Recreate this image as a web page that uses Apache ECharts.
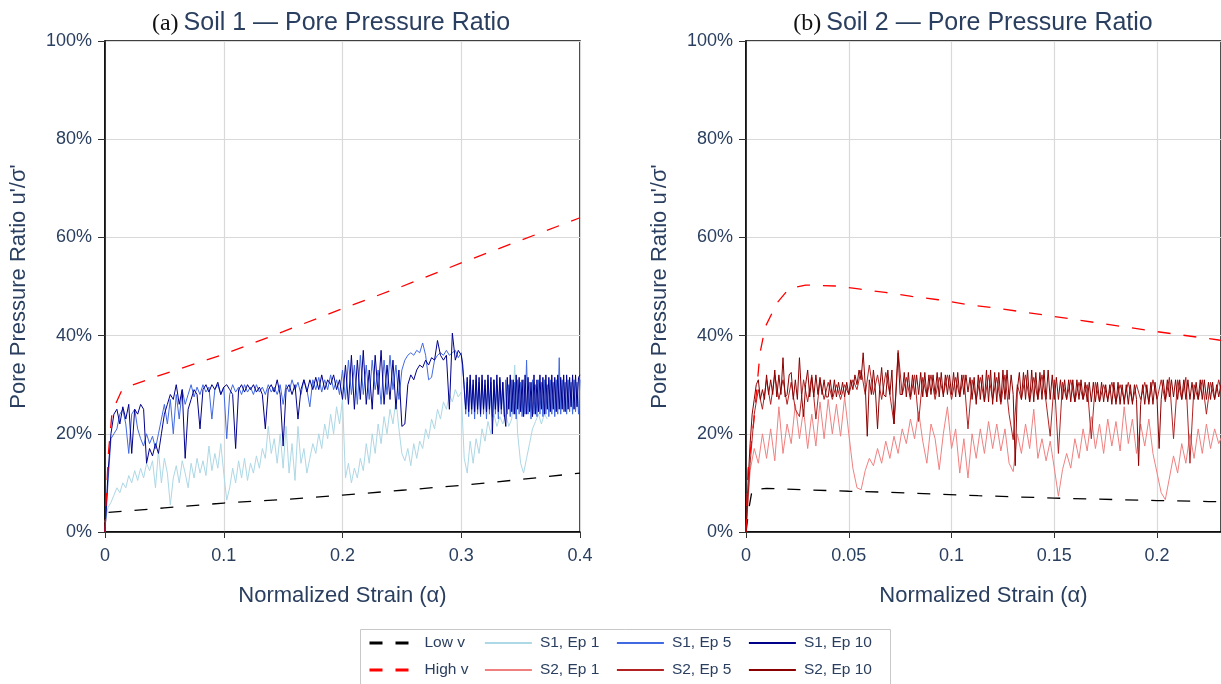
<!DOCTYPE html>
<html>
<head>
<meta charset="utf-8">
<script src="https://cdn.jsdelivr.net/npm/echarts@6/dist/echarts.min.js"></script>
<style>
  html, body { margin: 0; padding: 0; background: #fff; }
  #chart { width: 1221px; height: 684px; }
</style>
</head>
<body>
<div id="chart"></div>
<script>
// ---- data (values in %) ----
const s1Step = 0.0025;      // strain step of the soil 1 records, 0 .. 0.3
const s1TailStart = 0.30125; // denser records after 0.3
const s1TailStep = 0.00125;
const s2Step = 0.002;       // soil 2, episodes 1 and 5
const s2FineStep = 0.001;   // soil 2, episode 10

const s1Ep10 = [
  0, 12, 20, 24, 25, 22, 25.5, 23, 26, 16,
  25, 24, 26, 25, 14, 17, 15.5, 18, 16, 20,
  24, 26, 28, 27, 30, 26, 29, 15, 25, 27,
  29, 28, 21, 29, 30, 28.5, 30, 29, 30.5, 28,
  29.5, 30, 29, 28, 17, 29, 30, 28.5, 30, 29,
  30, 28.5, 29.5, 28, 21, 29, 30, 28.5, 31, 28,
  17.5, 29, 30, 28, 30, 23, 29, 31, 28.5, 31,
  29, 31.5, 29, 32, 29, 31, 30, 32, 29, 31,
  27, 34, 26, 36, 25, 35, 27, 37, 26, 33,
  25, 36, 28, 37, 26, 34, 27, 35, 25, 33,
  21.5, 22, 30, 32, 31, 33, 34, 33.5, 35, 34,
  35.5, 35, 39, 36, 35, 36, 25, 40.5, 35, 37,
  36
];
const s1Ep10Tail = [
  34, 29, 25, 31.5, 24.5, 32, 25, 31, 24.5, 32,
  25, 31.5, 24, 32, 25, 31, 24.5, 32, 25, 31.5,
  20, 31, 25, 32, 24.5, 31.5, 25, 30.5, 24, 21.5,
  31.5, 25, 32, 24.5, 31, 24, 32, 25, 31.5, 24.5,
  31, 23.5, 32, 24, 31.5, 24.5, 30.5, 23.5, 32, 24,
  31, 24.5, 32, 25, 31.5, 24, 32, 25, 31.5, 24.5,
  32, 25, 31.5, 24.5, 32, 25, 31.5, 25, 32, 24.5,
  32, 25, 31.5, 25.5, 32, 25, 32, 25.5, 31.5, 32
];
const s1Ep5 = [
  0, 10, 19, 20, 21, 24, 25, 22, 16, 24,
  25, 21, 19, 17.5, 20, 18, 19.5, 17, 20, 23,
  26, 22, 27, 20, 28, 23, 29, 26, 28, 30,
  27.5, 29.5, 28, 30, 28.5, 29.5, 23, 29, 30, 28,
  29.5, 19, 28, 30, 28.5, 29.5, 28, 30, 28.5, 29.5,
  28, 30, 28.5, 29.5, 28, 30, 28.5, 29.5, 28, 30,
  26, 30, 28.5, 31, 29, 30.5, 28, 31, 29, 25.5,
  31, 29, 31.5, 28.5, 31, 29, 32, 29, 31, 28,
  33, 27, 35, 28, 34, 26, 36, 28, 34, 27,
  35, 29, 33, 26, 35, 28, 36, 29, 34, 27,
  33, 35, 36, 36.5, 36, 37, 36.5, 38.5, 36, 31,
  31.5, 35, 36, 36.5, 36, 37, 36, 36.5, 37, 35.5,
  36.5
];
const s1Ep5Tail = [
  33, 30, 24, 30.5, 23.5, 31, 24, 30, 23, 31,
  24, 30.5, 23.5, 31, 24, 30, 23, 31, 24, 30.5,
  23.5, 31, 24, 30, 23, 31, 24, 30.5, 23.5, 31,
  24, 30, 23.5, 31, 24, 30.5, 23, 31, 24, 30.5,
  23.5, 31, 24, 35, 24, 30.5, 23, 31, 24, 30,
  23.5, 31, 24, 30.5, 23.5, 31, 24, 30, 23.5, 31,
  24, 30.5, 23.5, 31, 24, 35.5, 24, 31, 24.5, 30.5,
  24, 31, 24.5, 30.5, 24, 31, 24.5, 30.5, 24, 31
];
const s1Ep1 = [
  2, 5, 6, 7.5, 9, 8, 10, 9, 11.5, 10,
  12.5, 10.5, 13, 11, 14, 12.5, 14.5, 9, 16.5, 10,
  15, 12, 5.5, 11, 13.5, 10, 14.5, 12, 9, 14,
  11, 15, 12, 14.5, 11.5, 17.5, 12.5, 16, 13, 18,
  12, 6.5, 9, 13, 10, 14.5, 11, 15, 10.5, 14,
  12, 15.5, 13, 17, 15, 21.5, 16, 19, 14, 20,
  13, 21.5, 12, 18, 10.5, 21.5, 14, 17, 12, 15,
  18, 16, 20, 17, 22, 19, 24, 20, 25.5, 22,
  27, 11, 14, 10, 13, 11, 15, 12.5, 18, 14,
  20, 16, 22, 18, 23.5, 20, 25, 22, 27, 21,
  16, 14.5, 17, 13.5, 18, 15, 18.5, 17, 21, 19,
  23, 21, 25, 23, 26.5, 25, 28, 26.5, 29, 27.5,
  28.5, 15, 12, 18.5, 14, 19, 16, 21, 18.5, 22.5,
  20, 24, 21.5, 23.5, 22, 24, 21.5, 23, 34, 20,
  14, 12, 15, 18, 21, 22.5, 24, 22, 24, 23
];

const s2Ep10 = [
  0, 10, 18, 24, 27, 30, 31, 27, 29, 27, 32, 28, 31, 28, 33, 27.5, 32, 28, 35.5, 27.5,
  28, 32, 32.5, 27, 31, 27, 35.5, 28, 23.5, 30, 33, 27.5, 31.5, 27.5, 32, 28, 31.5, 28, 31, 27.5,
  27.5, 31, 27.5, 31, 27.5, 30.5, 28, 30.5, 27.5, 30.5, 28, 31, 29, 32, 30, 33, 31, 36.5, 30, 19.5,
  31, 28, 33, 28.5, 21, 29, 33.5, 28, 27.5, 33, 28, 33, 22, 28.5, 36.5, 28, 28, 32.5, 27.5, 32.5,
  27.5, 32, 28, 32, 28, 32.5, 27.5, 32.5, 27.5, 32, 28, 32, 28, 32.5, 27.5, 32.5, 27.5, 32, 28, 32,
  28, 32.5, 27.5, 32.5, 27.5, 32, 28, 32, 28.5, 31.5, 27, 31.5, 26, 32, 27, 32, 26.5, 33, 26.5, 33,
  26, 32.5, 26.5, 32.5, 26.5, 33, 27, 33, 27, 32, 28, 13.5, 29, 32.5, 27, 32.5, 27, 33, 26.5, 33,
  26.5, 32.5, 27, 32.5, 27, 33, 27, 33, 27, 32, 27, 31.5, 27, 31, 27, 31, 27, 31, 26.5, 31,
  26.5, 31, 27, 31, 27, 30.5, 26.5, 30.5, 26.5, 30.5, 26.5, 30.5, 26.5, 30.5, 26.5, 30, 26.5, 30, 26, 30.5,
  26, 30.5, 26, 30, 26, 30, 26, 30, 26, 30, 27, 13.5, 26, 30, 26, 30, 26, 30.5, 26, 30.5,
  27, 17, 27, 31, 27, 31, 27.5, 31, 27.5, 31, 27, 31, 27, 31, 27, 31, 27, 30.5, 27, 30.5,
  27, 31, 27, 31, 27, 30.5, 27, 30.5, 27, 30, 27.5, 30
];
const s2Ep5 = [
  0, 14, 24, 29, 25, 31, 26, 32, 27, 31,
  26, 30.5, 25, 23.5, 31, 26.5, 32, 23, 31, 27,
  30.5, 27, 30, 27, 30, 28, 31, 29, 33, 28,
  34, 28, 32, 27, 32.5, 28, 22, 37, 28, 31.5,
  27, 32, 22.5, 31.5, 27.5, 32, 27, 31.5, 28, 32,
  27, 31.5, 27.5, 32, 21, 31, 27, 31.5, 26.5, 32,
  27, 31.5, 26, 32, 24, 18.8, 30, 27, 32, 26.5,
  31.5, 27, 32, 26.5, 19.5, 31, 16, 30.5, 27, 31,
  26.5, 30.5, 27, 30, 19, 30.5, 26.5, 30, 27, 30.5,
  26.5, 30, 27, 30.5, 26.5, 30, 27, 30.5, 26.5, 31,
  27, 31, 26.5, 31.5, 19, 31, 27, 31.5, 14, 30,
  27, 31, 24, 30.5, 27, 31, 27
];
const s2Ep1 = [
  0, 12.5, 17, 14, 20, 15, 21, 14.5, 25.5, 16,
  22, 18, 26, 19, 25, 17, 24, 17.5, 26.5, 19,
  27, 20, 26, 19.5, 27.5, 20, 13, 9, 8.6, 12.5,
  15, 13.5, 17, 14, 18.5, 15, 19.5, 16, 21, 18,
  23, 19, 24.5, 18.5, 14, 22, 19, 12.7, 20, 25.5,
  17, 21, 12, 19, 11, 20, 15, 21, 16, 22.5,
  17, 22, 16.5, 21, 14, 12.3, 20, 16, 22, 17,
  25, 15, 19, 14.5, 18.5, 13, 7.3, 12.7, 16, 13,
  19, 15, 21, 16.5, 23.5, 17, 22, 16, 23, 17.5,
  22.5, 16.5, 25.5, 18, 23, 16, 22, 17.5, 23, 16,
  12, 8, 6.6, 11, 15.5, 12, 18, 14, 20, 15,
  21, 16, 22, 17, 21, 18, 20
];

// reference curves [strain, %]
const s1LowV = [[0.003, 4], [0.05, 4.9], [0.1, 5.9], [0.15, 6.6], [0.2, 7.5],
  [0.25, 8.5], [0.3, 9.5], [0.35, 10.7], [0.4, 12]];
const s1HighV = [[0, 0], [0.001, 6.5], [0.003, 16.4], [0.006, 24.5], [0.0137, 28.6], [0.023, 29.9],
  [0.04, 31.4], [0.05, 32.2], [0.1, 36.2], [0.15, 40.8], [0.2, 45.5], [0.25, 50], [0.3, 54.8],
  [0.35, 59.4], [0.4, 64]];
const s2LowV = [[0, 0], [0.0015, 5], [0.003, 8.6], [0.01, 8.9], [0.029, 8.6], [0.05, 8.3],
  [0.069, 8.1], [0.0935, 7.7], [0.113, 7.4], [0.15, 6.9], [0.2, 6.4], [0.225, 6.2], [0.25, 6.0]];
const s2HighV = [[0, 0], [0.001, 12.6], [0.0038, 22.5], [0.0068, 36.4], [0.0094, 41.8], [0.015, 46.6],
  [0.021, 49.6], [0.029, 50.3], [0.0435, 50.1], [0.0548, 49.5], [0.0677, 48.8], [0.0806, 48],
  [0.0935, 47.3], [0.1097, 46.2], [0.12, 45.7], [0.15, 43.9], [0.2, 40.8], [0.23, 39.1], [0.25, 38]];

const yTicks = [0, 20, 40, 60, 80, 100];
// legend columns: [row 1 name, row 2 name]
const legendCols = [['Low v', 'High v'], ['S1, Ep 1', 'S2, Ep 1'],
                    ['S1, Ep 5', 'S2, Ep 5'], ['S1, Ep 10', 'S2, Ep 10']];

// ---- chart ----
const FONT = 'Liberation Sans, Arial, sans-serif';
const INK = '#2a3f5f';
const chart = echarts.init(document.getElementById('chart'));

const toPairs = (ys, step, x0 = 0) => ys.map((v, i) => [+(x0 + i * step).toFixed(5), v]);

const xAxisCfg = (gridIndex, max, interval) => ({
  type: 'value', gridIndex, min: 0, max, interval,
  name: 'Normalized Strain (α)', nameLocation: 'middle', nameGap: 53,
  nameTextStyle: { color: INK, fontSize: 22, fontFamily: FONT },
  axisLine: { lineStyle: { color: '#000', width: 1.5 } },
  axisTick: { show: true, length: 6, lineStyle: { color: '#333' } },
  axisLabel: { color: INK, fontSize: 18, fontFamily: FONT, margin: 15, showMaxLabel: gridIndex === 0 },
  splitLine: { lineStyle: { color: '#d9d9d9', width: 1.2 } }
});
const yAxisCfg = (gridIndex) => ({
  type: 'value', gridIndex, min: yTicks[0], max: yTicks[yTicks.length - 1], interval: 20,
  name: 'Pore Pressure Ratio u\'/σ\'', nameLocation: 'middle', nameGap: 75,
  nameTextStyle: { color: INK, fontSize: 22, fontFamily: FONT },
  axisLine: { show: true, lineStyle: { color: '#000', width: 1.5 } },
  axisTick: { show: true, length: 7, lineStyle: { color: '#333' } },
  axisLabel: { color: INK, fontSize: 18, fontFamily: FONT, margin: 13, formatter: '{value}%' },
  splitLine: { lineStyle: { color: '#d9d9d9', width: 1.2 } }
});

const noisy = (name, data, color, xi) => ({
  name, type: 'line', xAxisIndex: xi, yAxisIndex: xi, data,
  showSymbol: false, symbol: 'none', lineStyle: { color, width: 1 }, itemStyle: { color }
});
const dashed = (name, data, color, xi) => ({
  name, type: 'line', xAxisIndex: xi, yAxisIndex: xi, data,
  showSymbol: false, symbol: 'none', lineStyle: { color, width: 1.3, type: [13, 13] }, itemStyle: { color }
});

const titleCfg = (left, tag, text) => ({
  left, top: 6, textAlign: 'center',
  text: '{a|' + tag + '} {b|' + text + '}',
  textStyle: {
    fontWeight: 'normal',
    rich: {
      a: { fontFamily: 'Liberation Serif, Times New Roman, serif', fontSize: 24, color: '#111', fontWeight: 'normal' },
      b: { fontFamily: FONT, fontSize: 25, color: INK, fontWeight: 'normal' }
    }
  }
});

const legendX = [368, 484, 616, 748];
const legends = legendCols.map((names, i) => ({
  orient: 'vertical', left: legendX[i], top: 635,
  data: names.map(n => n.endsWith(' v') ? { name: n, lineStyle: { width: 3 } } : n),
  itemWidth: 47, itemHeight: 14, itemGap: 11, padding: 0,
  lineStyle: { width: 1.8 },
  itemStyle: { opacity: 0 },
  textStyle: { color: INK, fontSize: 15.5, fontFamily: FONT, padding: [0, 0, 0, 3] }
}));

const option = {
  animation: false,
  backgroundColor: '#fff',
  title: [
    titleCfg(326, '(a)', 'Soil 1 — Pore Pressure Ratio'),
    titleCfg(968, '(b)', 'Soil 2 — Pore Pressure Ratio')
  ],
  graphic: [{
    type: 'rect', left: 358, top: 627, silent: true,
    shape: { width: 530, height: 90 },
    style: { fill: 'none', stroke: '#c8c8c8', lineWidth: 1 }
  }],
  grid: [
    { left: 105, top: 41, width: 475, height: 491, show: true, borderColor: '#000', borderWidth: 1.5 },
    { left: 746, top: 41, width: 476, height: 491, show: true, borderColor: '#000', borderWidth: 1.5 }
  ],
  xAxis: [xAxisCfg(0, 0.4, 0.1), xAxisCfg(1, 0.2311, 0.05)],
  yAxis: [yAxisCfg(0), yAxisCfg(1)],
  legend: legends,
  series: [
    noisy('S1, Ep 1', toPairs(s1Ep1, s1Step), '#ADD8E6', 0),
    noisy('S1, Ep 5', toPairs(s1Ep5, s1Step).concat(toPairs(s1Ep5Tail, s1TailStep, s1TailStart)), '#4169E1', 0),
    noisy('S1, Ep 10', toPairs(s1Ep10, s1Step).concat(toPairs(s1Ep10Tail, s1TailStep, s1TailStart)), '#00008B', 0),
    dashed('Low v', s1LowV, '#000000', 0),
    dashed('High v', s1HighV, '#FF0000', 0),
    noisy('S2, Ep 1', toPairs(s2Ep1, s2Step), '#F08080', 1),
    noisy('S2, Ep 5', toPairs(s2Ep5, s2Step), '#B22222', 1),
    noisy('S2, Ep 10', toPairs(s2Ep10, s2FineStep), '#8B0000', 1),
    dashed('Low v', s2LowV, '#000000', 1),
    dashed('High v', s2HighV, '#FF0000', 1)
  ]
};

chart.setOption(option);
window.addEventListener('resize', () => chart.resize());
</script>
</body>
</html>
